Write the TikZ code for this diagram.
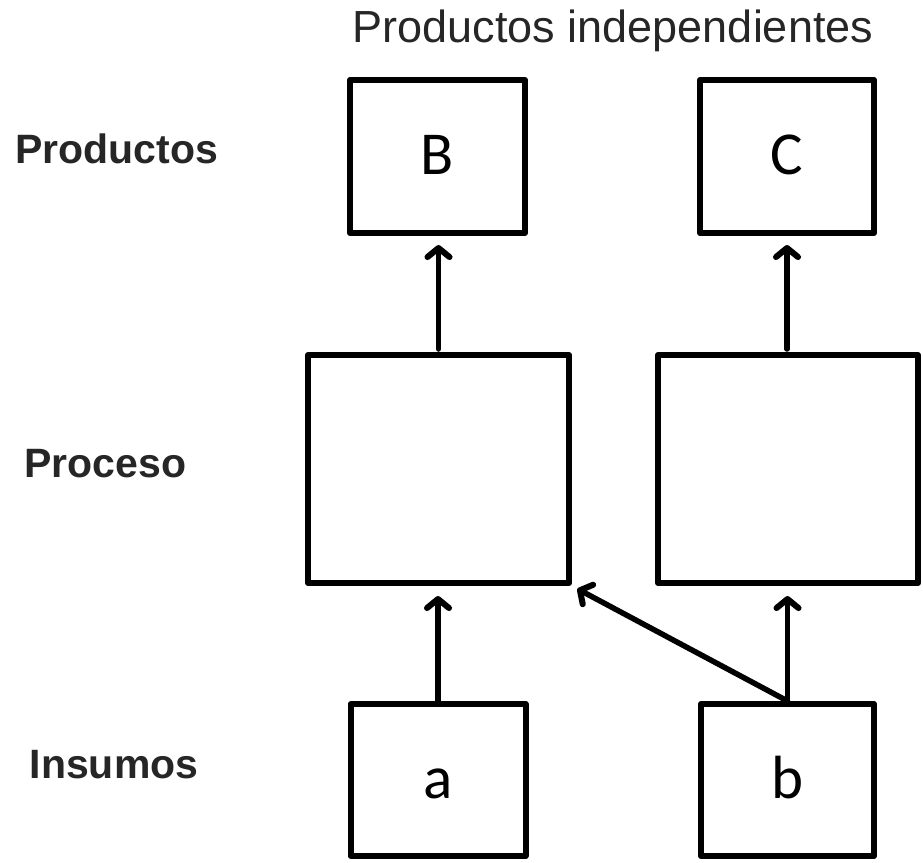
\documentclass[tikz,border=0pt]{standalone}
\usepackage{fontspec}
\setmainfont{Liberation Sans}
\newfontfamily\boxfont{Carlito}
\usetikzlibrary{arrows.meta}
\definecolor{labelgray}{HTML}{262626}
\tikzset{
  blk/.style={draw=black, line width=6pt, line join=round, inner sep=0pt, fill=white,
    text height=36pt, text depth=0pt,
    font=\boxfont\fontsize{61}{61}\selectfont},
  lbl/.style={anchor=base, inner sep=0pt, text=labelgray,
    font=\bfseries\fontsize{41}{41}\selectfont},
  ttl/.style={anchor=base, inner sep=0pt, text=labelgray,
    font=\fontsize{45}{45}\selectfont},
  arr/.style={draw=black, line width=5.5pt, line cap=round,
    -{Straight Barb[length=9pt,width=22pt,line width=0pt 1.1,line cap=round,line join=round]}},
}
\begin{document}
\begin{tikzpicture}[x=1pt,y=-1pt]
\useasboundingbox (0,0) rectangle (923,862);
% boxes
\node[blk, minimum width=175pt, minimum height=153pt] (B) at (437.5,156.5) {B};
\node[blk, minimum width=174pt, minimum height=153pt] (C) at (787,156.5) {C};
\node[blk, minimum width=261pt, minimum height=228pt] (pL) at (438.5,469) {};
\node[blk, minimum width=260pt, minimum height=228pt] (pR) at (788,469) {};
\node[blk, minimum width=175pt, minimum height=152pt] (a) at (438,780) {a};
\node[blk, minimum width=173pt, minimum height=152pt] (b) at (787.5,780) {b};
% labels
\node[ttl] (t) at (613,42) {Productos independientes};
\node[lbl] (l1) at (116.5,163) {Productos};
\node[lbl] (l2) at (105.5,477) {Proceso};
\node[lbl] (l3) at (114,778) {Insumos};
% arrows
\draw[arr, shorten >=10pt] (a.north) -- (a.north |- pL.south);
\draw[arr, shorten >=10pt] (b.north) -- (b.north |- pR.south);
\draw[arr, shorten >=6pt] (b.north) -- (pL.south east);
\draw[arr, shorten >=9pt, shorten <=3pt] (pL.north) -- (pL.north |- B.south);
\draw[arr, shorten >=9pt, shorten <=3pt] (pR.north -| C.south) -- (C.south);
\end{tikzpicture}
\end{document}
